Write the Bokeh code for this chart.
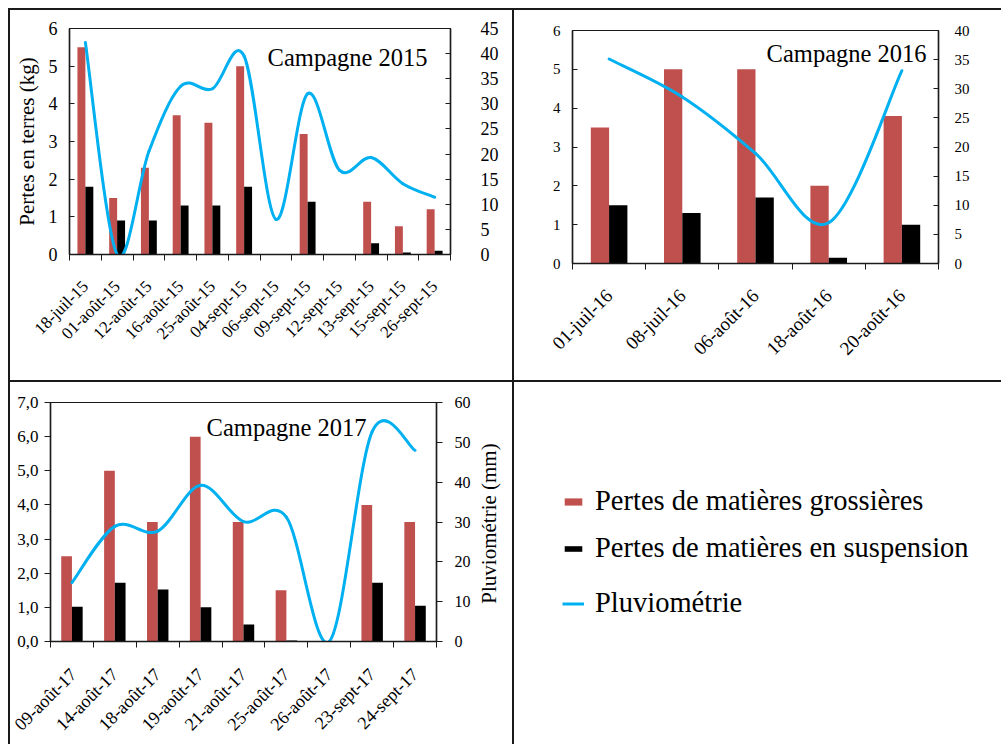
import numpy as np
from bokeh.plotting import figure
from bokeh.models import Range1d, LinearAxis, FixedTicker, Label, Legend, LegendItem, ColumnDataSource, Spacer
from bokeh.layouts import row, column
from bokeh.embed import file_html
from bokeh.resources import INLINE

FONT = "Liberation Serif"
RED = "#C0504D"
BLACK = "#000000"
BLUE = "#00B0F0"
INK = "#1a1a1a"

# ---------------- data ----------------
dates_2015 = ["18-juil-15", "01-août-15", "12-août-15", "16-août-15", "25-août-15", "04-sept-15",
              "06-sept-15", "09-sept-15", "12-sept-15", "13-sept-15", "15-sept-15", "26-sept-15"]
coarse_2015 = [5.5, 1.5, 2.3, 3.7, 3.5, 5.0, 0.0, 3.2, 0.0, 1.4, 0.75, 1.2]
susp_2015 = [1.8, 0.9, 0.9, 1.3, 1.3, 1.8, 0.0, 1.4, 0.0, 0.3, 0.05, 0.1]
rain_2015 = [42.2, 0.0, 20.5, 33.5, 33.0, 39.5, 7.0, 32.0, 16.8, 19.3, 14.1, 11.4]

dates_2016 = ["01-juil-16", "08-juil-16", "06-août-16", "18-août-16", "20-août-16"]
coarse_2016 = [3.5, 5.0, 5.0, 2.0, 3.8]
susp_2016 = [1.5, 1.3, 1.7, 0.15, 1.0]
rain_2016 = [35.1, 28.6, 18.9, 7.0, 33.1]

dates_2017 = ["09-août-17", "14-août-17", "18-août-17", "19-août-17", "21-août-17", "25-août-17",
              "26-août-17", "23-sept-17", "24-sept-17"]
coarse_2017 = [2.5, 5.0, 3.5, 6.0, 3.5, 1.5, 0.0, 4.0, 3.5]
susp_2017 = [1.02, 1.72, 1.52, 1.0, 0.5, 0.03, 0.0, 1.72, 1.05]
rain_2017 = [14.8, 28.9, 27.7, 39.2, 30.1, 31.2, 0.0, 52.7, 48.0]

legend_labels = ["Pertes de matières grossières", "Pertes de matières en suspension", "Pluviométrie"]
rain_axis_title = "Pluviométrie (mm)"
soil_axis_title = "Pertes en terres (kg)"


def smooth_source(vals):
    """Bezier segments (Excel-like smoothed line) through the data points."""
    y = np.asarray(vals, dtype=float)
    n = len(y)
    x = np.arange(n, dtype=float)
    xp = np.concatenate([[x[0]], x, [x[-1]]])
    yp = np.concatenate([[y[0]], y, [y[-1]]])
    tx = xp[2:] - xp[:-2]
    ty = yp[2:] - yp[:-2]
    return ColumnDataSource(dict(
        x0=x[:-1], y0=y[:-1], x1=x[1:], y1=y[1:],
        cx0=x[:-1] + tx[:-1] / 6.0, cy0=y[:-1] + ty[:-1] / 6.0,
        cx1=x[1:] - tx[1:] / 6.0, cy1=y[1:] - ty[1:] / 6.0,
    ))


def style_axis(ax, size, stand, tin, tout):
    ax.minor_tick_line_color = None
    ax.major_tick_in = tin
    ax.major_tick_out = tout
    ax.major_tick_line_color = INK
    ax.axis_line_color = INK
    ax.axis_line_width = 1.5
    ax.major_label_text_font = FONT
    ax.major_label_text_font_size = size
    ax.major_label_text_color = "black"
    ax.major_label_standoff = stand


def blank(w, h, mb):
    f = figure(width=w, height=h, x_range=Range1d(0, 1), y_range=Range1d(0, 1),
               output_backend="svg", toolbar_location=None, x_axis_type=None, y_axis_type=None,
               min_border_left=mb[0], min_border_right=mb[1],
               min_border_top=mb[2], min_border_bottom=mb[3])
    f.outline_line_color = None
    f.xgrid.visible = False
    f.ygrid.visible = False
    return f


def panel(cats, coarse, susp, rain, lmax, lticks, rmax, rticks, w, h, mb, fs, title,
          tpos, ylabel=None, left_fmt=None, tick_in=True,
          lstand=14, rstand=15, xstand=10):
    n = len(cats)
    p = figure(width=w, height=h, x_range=Range1d(-0.5, n - 0.5), y_range=Range1d(0, lmax),
               output_backend="svg", toolbar_location=None,
               min_border_left=mb[0], min_border_right=mb[1],
               min_border_top=mb[2], min_border_bottom=mb[3])
    p.extra_y_ranges = {"rain": Range1d(0, rmax)}
    p.xgrid.visible = False
    p.ygrid.visible = False
    p.outline_line_color = INK
    p.outline_line_width = 1.2
    p.background_fill_color = "white"
    p.border_fill_color = "white"

    xs = np.arange(n, dtype=float)
    p.vbar(x=xs - 0.125, top=coarse, width=0.25, fill_color=RED, line_color=None)
    p.vbar(x=xs + 0.125, top=susp, width=0.25, fill_color=BLACK, line_color=None)
    p.bezier(x0="x0", y0="y0", x1="x1", y1="y1", cx0="cx0", cy0="cy0", cx1="cx1", cy1="cy1",
             source=smooth_source(rain), line_color=BLUE, line_width=3, line_cap="round",
             y_range_name="rain")

    # x axis: labels at category centres, tick marks at category boundaries
    xa = p.xaxis[0]
    xa.ticker = FixedTicker(ticks=list(range(n)), minor_ticks=list(np.arange(-0.5, n, 1.0)))
    xa.major_label_overrides = {i: c for i, c in enumerate(cats)}
    xa.major_label_orientation = np.pi / 4
    xa.major_tick_line_color = None
    xa.minor_tick_line_color = INK
    xa.minor_tick_in = 0
    xa.minor_tick_out = 6
    xa.axis_line_color = INK
    xa.axis_line_width = 1.5
    xa.major_label_text_font = FONT
    xa.major_label_text_font_size = fs["x"]
    xa.major_label_text_color = "black"
    xa.major_label_standoff = xstand

    tin, tout = (5, 0) if tick_in else (0, 6)
    ya = p.yaxis[0]
    ya.ticker = FixedTicker(ticks=lticks)
    if left_fmt:
        ya.major_label_overrides = {t: left_fmt(t) for t in lticks}
    style_axis(ya, fs["yl"], lstand, tin, tout)
    if ylabel:
        ya.axis_label = ylabel
        ya.axis_label_text_font = FONT
        ya.axis_label_text_font_size = fs["lab"]
        ya.axis_label_text_font_style = "normal"
        ya.axis_label_text_color = "black"
        ya.axis_label_standoff = 7

    ra = LinearAxis(y_range_name="rain", ticker=FixedTicker(ticks=rticks))
    style_axis(ra, fs["yr"], rstand, tin, tout)
    p.add_layout(ra, "right")

    p.add_layout(Label(x=tpos[0], y=tpos[1], x_units="screen", y_units="screen", text=title,
                       text_font=FONT, text_font_size="24.5px", text_color="black",
                       text_align="right", text_baseline="alphabetic"))
    return p


p1 = panel(dates_2015, coarse_2015, susp_2015, rain_2015, 6, list(range(0, 7)), 45,
           list(range(0, 50, 5)), 502, 370, (59, 62, 18, 126),
           {"x": "17px", "yl": "18px", "yr": "18px", "lab": "21px"},
           "Campagne 2015", (358, 197), ylabel=soil_axis_title,
           lstand=12, rstand=30, xstand=23)

p2 = panel(dates_2016, coarse_2016, susp_2016, rain_2016, 6, list(range(0, 7)), 40,
           list(range(0, 45, 5)), 487, 370, (58, 63, 20, 117),
           {"x": "19px", "yl": "15px", "yr": "15px", "lab": "21px"},
           "Campagne 2016", (354, 210), lstand=12, rstand=16, xstand=23)

# 2017 panel is followed by a narrow strip carrying the right-hand axis title
p3 = panel(dates_2017, coarse_2017, susp_2017, rain_2017, 7, list(range(0, 8)), 60,
           list(range(0, 70, 10)), 464, 362, (40, 38, 20, 100),
           {"x": "18px", "yl": "17px", "yr": "16px", "lab": "21px"},
           "Campagne 2017", (316, 214),
           left_fmt=lambda t: f"{t},0", tick_in=False, lstand=6, rstand=12, xstand=24)

strip = blank(38, 362, (0, 0, 20, 100))
strip.add_layout(Label(x=14, y=121, x_units="screen", y_units="screen",
                       text=rain_axis_title, angle=np.pi / 2, text_font=FONT,
                       text_font_size="21px", text_color="black",
                       text_align="center", text_baseline="middle"))

# legend panel (frame placed like the 2017 frame: 20 px top, 100 px bottom)
p4 = blank(487, 362, (0, 0, 20, 100))
# swatch renderers (kept outside the visible range; only used by the legends)
r_red = p4.vbar(x=[5], top=[1], width=0.1, fill_color=RED, line_color=None)
r_blk = p4.vbar(x=[5], top=[1], width=0.1, fill_color=BLACK, line_color=None)
r_blu = p4.line(x=[5, 6], y=[1, 1], line_color=BLUE, line_width=3)

for lab, rend, gh, cy in [(legend_labels[0], r_red, 9, 143),
                          (legend_labels[1], r_blk, 7, 96),
                          (legend_labels[2], r_blu, 9, 41)]:
    lg = Legend(items=[LegendItem(label=lab, renderers=[rend])],
                location=(48, cy - 16), padding=0, margin=0, spacing=0,
                border_line_color=None, background_fill_alpha=0,
                glyph_width=22, glyph_height=gh, label_standoff=11,
                label_text_font=FONT, label_text_font_size="28.5px", label_text_color="black",
                label_height=32)
    p4.add_layout(lg, "center")


def bar(w, h, color=INK):
    return Spacer(width=w, height=h, styles={"background-color": color})


inner = column(
    bar(993, 2),
    row(bar(2, 370), column(p1), bar(2, 370), column(p2), spacing=0),
    bar(993, 2),
    row(bar(2, 362), column(p3), column(strip), bar(2, 362), column(p4), spacing=0),
    spacing=0,
)
layout = row(Spacer(width=8, height=744), column(Spacer(width=993, height=8), inner, spacing=0),
             spacing=0)

open("out.html", "w").write(file_html(layout, INLINE))
